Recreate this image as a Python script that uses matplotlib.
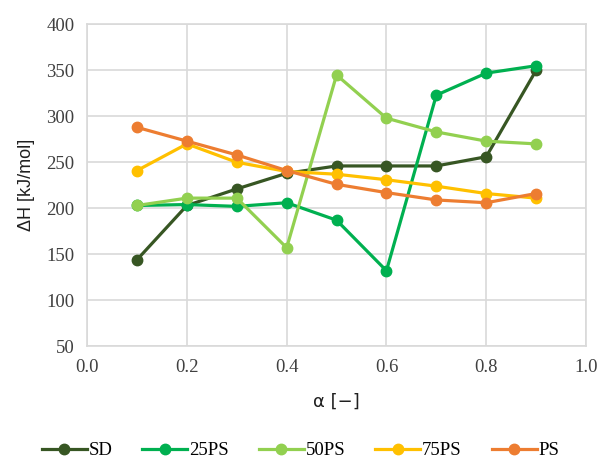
import matplotlib
matplotlib.use("Agg")
import matplotlib.pyplot as plt
from matplotlib.ticker import FormatStrFormatter

alpha = [0.1, 0.2, 0.3, 0.4, 0.5, 0.6, 0.7, 0.8, 0.9]
sd = [144, 203, 221, 238, 246, 246, 246, 256, 350]
ps25 = [203, 204, 202, 206, 187, 132, 323, 347, 355]
ps50 = [203, 211, 211, 157, 345, 298, 283, 273, 270]
ps75 = [241, 270, 250, 240, 237, 231, 224, 216, 211]
ps = [288, 273, 258, 241, 226, 217, 209, 206, 216]

labels = ["SD", "25PS", "50PS", "75PS", "PS"]
colors = ["#375623", "#00B050", "#92D050", "#FFC000", "#ED7D31"]
series = [sd, ps25, ps50, ps75, ps]

fig = plt.figure(figsize=(6.01, 4.69), dpi=100)
ax = fig.add_axes([0.145, 0.262, 0.830, 0.686])

for vals, lab, col in zip(series, labels, colors):
    ax.plot(alpha, vals, color=col, lw=2.3, marker="o", ms=7.5, label=lab)

ax.set_xlim(0, 1)
ax.set_ylim(50, 400)
ax.set_xticks([0.0, 0.2, 0.4, 0.6, 0.8, 1.0])
ax.set_yticks(range(50, 401, 50))
ax.xaxis.set_major_formatter(FormatStrFormatter("%.1f"))
ax.grid(True, color="#d9d9d9", lw=1.2)
ax.set_axisbelow(True)
for s in ax.spines.values():
    s.set_color("#d9d9d9")
    s.set_linewidth(1.2)
ax.tick_params(length=0, pad=9, labelsize=13.5, labelcolor="#404040")
for t in ax.get_xticklabels() + ax.get_yticklabels():
    t.set_fontfamily("Liberation Serif")

ax.set_xlabel("α [−]", fontsize=13, family="DejaVu Sans", color="#202020", labelpad=12)
ax.set_ylabel("ΔH [kJ/mol]", fontsize=13, family="Liberation Sans", color="#202020", labelpad=8)

fig.legend(loc="lower center", bbox_to_anchor=(0.5, -0.015), ncol=5, frameon=False,
           prop={"family": "Liberation Serif", "size": 13.5}, handlelength=2.4,
           handletextpad=0.1, columnspacing=1.6)

fig.savefig("out.png", dpi=100)
